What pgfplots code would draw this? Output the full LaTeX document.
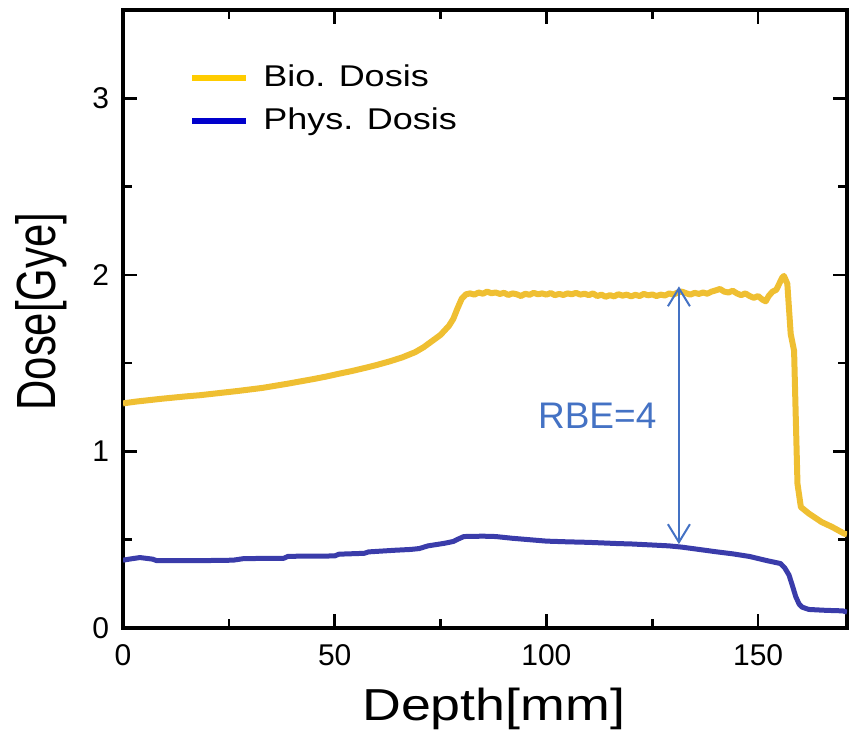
\documentclass[border=0pt]{standalone}
\usepackage{fontspec}
\setmainfont{Liberation Sans}
\usepackage{pgfplots}
\pgfplotsset{compat=1.18}
\usetikzlibrary{arrows.meta}

\definecolor{bioline}{RGB}{239,191,50}
\definecolor{physline}{RGB}{58,60,170}
\definecolor{biokey}{RGB}{255,204,0}
\definecolor{physkey}{RGB}{0,0,204}
\definecolor{rbeblue}{RGB}{68,114,196}

% Biological (RBE-weighted) dose along depth
\pgfplotstableread{
x y
0 1.272
3 1.282
6 1.290
9 1.298
12 1.305
15 1.312
18 1.318
21 1.326
24 1.334
27 1.342
30 1.351
33 1.360
36 1.372
39 1.384
42 1.397
45 1.410
48 1.424
51 1.440
54 1.455
57 1.472
60 1.490
63 1.510
66 1.533
69 1.562
71 1.590
73 1.625
75 1.660
77 1.712
78 1.750
79 1.810
80 1.865
81 1.890
82 1.895
83 1.888
84 1.900
85 1.893
86 1.905
87 1.896
88 1.900
89 1.892
90 1.898
91 1.886
92 1.895
93 1.890
94 1.880
95 1.893
96 1.887
97 1.898
98 1.890
99 1.895
100 1.888
101 1.897
102 1.885
103 1.892
104 1.886
105 1.895
106 1.890
107 1.898
108 1.888
109 1.893
110 1.885
111 1.895
112 1.880
113 1.888
114 1.876
115 1.885
116 1.878
117 1.890
118 1.882
119 1.888
120 1.878
121 1.887
122 1.880
123 1.892
124 1.884
125 1.889
126 1.880
127 1.888
128 1.883
129 1.895
130 1.888
131 1.900
132 1.905
133 1.896
134 1.888
135 1.898
136 1.892
137 1.900
138 1.893
139 1.905
140 1.912
141 1.920
142 1.905
143 1.900
144 1.910
145 1.895
146 1.885
147 1.895
148 1.880
149 1.870
150 1.880
151 1.860
151.8 1.850
152.5 1.880
153.4 1.905
154.3 1.915
155 1.950
155.7 1.985
156.1 1.994
156.9 1.950
157.7 1.665
158.5 1.570
158.9 1.190
159.3 0.817
160.1 0.685
162 0.648
165 0.600
167.5 0.572
170.3 0.535
171 0.530
}\biodose

% Physical (absorbed) dose along depth
\pgfplotstableread{
x y
0 0.384
2 0.392
4 0.399
7 0.390
8 0.381
15 0.381
20 0.382
26 0.384
28.5 0.393
38 0.395
39 0.406
50 0.408
51 0.418
57 0.423
58 0.431
64 0.440
68 0.445
70 0.450
72 0.465
76 0.480
78 0.490
79 0.502
80.5 0.518
85 0.520
88 0.518
92 0.508
97 0.498
100 0.492
105 0.488
110 0.485
113 0.482
117 0.478
120 0.476
125 0.470
129 0.465
132 0.458
136 0.445
140 0.432
144 0.420
148 0.405
152 0.382
155.3 0.365
156.3 0.340
157.3 0.300
158.1 0.240
158.9 0.177
159.7 0.135
160.4 0.118
162 0.105
166 0.100
170 0.097
171 0.090
}\physdose

\begin{document}
\begin{tikzpicture}
\begin{axis}[
  name=ax,
  scale only axis,
  width=362pt, height=309pt,
  xmin=0, xmax=171, ymin=0, ymax=3.5,
  xtick={0,50,100,150}, ytick={0,1,2,3},
  minor x tick num=1, minor y tick num=1,
  tick align=inside,
  major tick length=7pt, minor tick length=4.5pt,
  major tick style={black, line width=1.3pt},
  minor tick style={black, line width=1.3pt},
  axis line style={black, line width=1.6pt},
  /pgf/number format/assume math mode=true,
  xticklabel style={font=\fontsize{15}{18}\selectfont, yshift=-4.5pt},
  yticklabel style={font=\fontsize{15}{18}\selectfont, xshift=-3.5pt},
  every axis x label/.style={at={(axis description cs:0.512,0)}, anchor=base, yshift=-46pt,
    font=\fontsize{22.4}{26}\selectfont},
  every axis y label/.style={at={(axis description cs:-0.0939,0.512)}, rotate=90, anchor=base,
    font=\fontsize{23}{27}\selectfont},
  xlabel={\scalebox{1.2}[1]{Depth[mm]}},
  ylabel={\scalebox{0.91}[1.2]{Dose[Gye]}},
  legend style={draw=none, fill=none, at={(axis description cs:0,1)}, anchor=north west,
    xshift=33pt, yshift=-27pt, inner sep=0pt, row sep=7.5pt, column sep=7pt,
    nodes={inner sep=0pt, text height=11pt, text depth=3pt, font=\fontsize{15}{18}\selectfont}},
  legend cell align=left,
  legend image code/.code={\draw[line width=3pt,#1] (0pt,0pt) -- (27pt,0pt);},
]
\addlegendimage{biokey}
\addlegendentry{\scalebox{1.2}[1]{Bio. Dosis}}
\addlegendimage{physkey}
\addlegendentry{\scalebox{1.2}[1]{Phys. Dosis}}

\addplot[forget plot, bioline, line width=3pt, line join=round] table[x=x,y=y] {\biodose};
\addplot[forget plot, physline, line width=2.5pt, line join=round] table[x=x,y=y] {\physdose};

\draw[rbeblue, line width=1pt,
  {Straight Barb[length=9pt,width=11pt]}-{Straight Barb[length=9pt,width=11pt]}]
  (axis cs:131.3,0.475) -- (axis cs:131.3,1.935);
\node[rbeblue, anchor=base, font=\fontsize{18.5}{22}\selectfont] at (axis cs:112,1.13) {RBE=4};
\end{axis}
\pgfresetboundingbox
\path ([xshift=-61.5pt,yshift=-51pt]ax.south west) rectangle ([xshift=5.5pt,yshift=5pt]ax.north east);
\end{tikzpicture}
\end{document}
